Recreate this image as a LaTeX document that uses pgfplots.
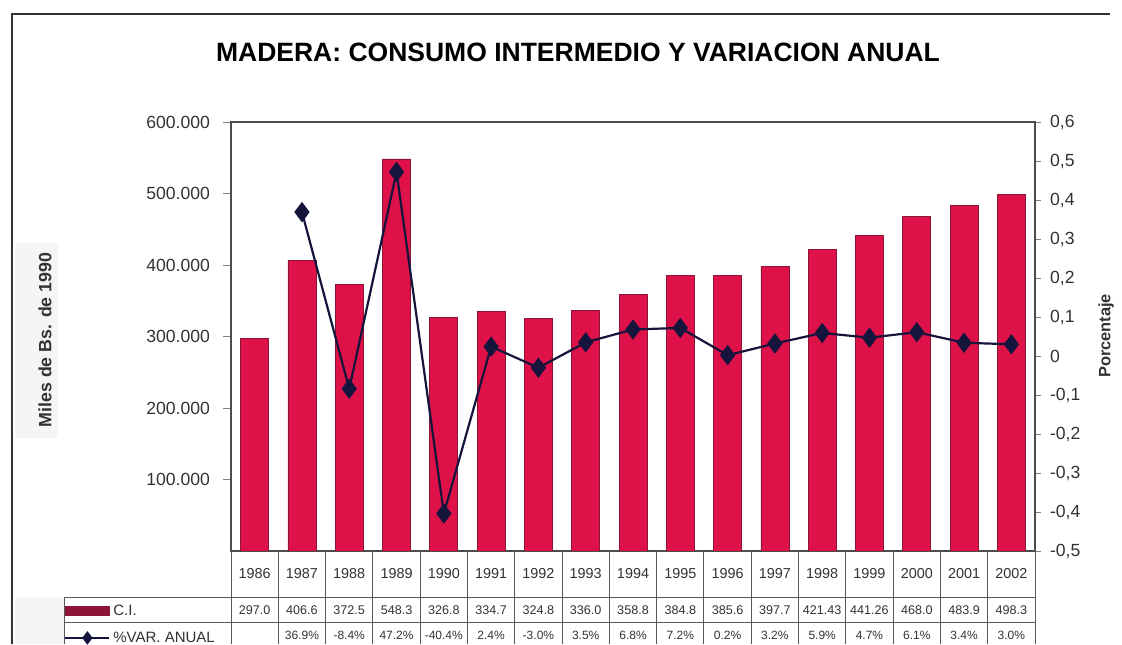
\documentclass[border=0pt]{standalone}
\usepackage{pgfplots}
\pgfplotsset{compat=1.18}
\usepackage{pgfplotstable}
\usepackage{fontspec}
\setmainfont{Liberation Sans}
\definecolor{barred}{RGB}{222,18,72}
\definecolor{bardark}{RGB}{140,20,55}
\definecolor{navy}{RGB}{20,20,60}
\definecolor{txt}{RGB}{50,50,50}

\pgfplotstableread{
idx year ci var
0 1986 297.0 nan
1 1987 406.6 0.369
2 1988 372.5 -0.084
3 1989 548.3 0.472
4 1990 326.8 -0.404
5 1991 334.7 0.024
6 1992 324.8 -0.030
7 1993 336.0 0.035
8 1994 358.8 0.068
9 1995 384.8 0.072
10 1996 385.6 0.002
11 1997 397.7 0.032
12 1998 421.43 0.059
13 1999 441.26 0.047
14 2000 468.0 0.061
15 2001 483.9 0.034
16 2002 498.3 0.030
}\datatab

\begin{document}
\begin{tikzpicture}[x=0.5bp,y=0.5bp]
\useasboundingbox (0,0) rectangle (1122,644);
% scan-like light panels
\fill[black!4] (15,206) rectangle (58,401);
\fill[black!4] (15,0) rectangle (64,47);
% outer frame
\draw[line width=1bp, black!80] (12,0) -- (12,630) -- (1110,630);
% title
\node[font=\bfseries\fontsize{13.25bp}{15bp}\selectfont] at (578,592) {MADERA: CONSUMO INTERMEDIO Y VARIACION ANUAL};
\node[rotate=90, font=\bfseries\fontsize{8.9bp}{10bp}\selectfont, text=txt] at (45,304) {Miles de Bs. de 1990};
\node[rotate=90, font=\bfseries\fontsize{8.2bp}{10bp}\selectfont, text=txt] at (1106,308) {Porcentaje};

\begin{axis}[
  at={(115.5bp,46.5bp)}, anchor=south west, scale only axis,
  width=402bp, height=214.5bp,
  xmin=-0.5, xmax=16.5, ymin=0, ymax=600000,
  xtick=\empty, ytick={100000,200000,300000,400000,500000,600000},
  ytick pos=left, tick align=outside, major tick length=4bp,
  scaled y ticks=false,
  /pgf/number format/assume math mode=true,
  yticklabel style={xshift=-3bp, /pgf/number format/.cd, fixed, precision=0, 1000 sep={.}},
  tick label style={font=\fontsize{8.8bp}{10bp}\selectfont, text=txt},
  axis line style={black!70, line width=0.6bp},
  ybar, bar width=14bp,
]
\addplot[fill=barred, draw=bardark, line width=0.4bp] table[x=idx, y expr=\thisrow{ci}*1000]{\datatab};
\end{axis}

\begin{axis}[
  at={(115.5bp,46.5bp)}, anchor=south west, scale only axis,
  width=402bp, height=214.5bp,
  xmin=-0.5, xmax=16.5, ymin=-0.5, ymax=0.6,
  axis y line*=right, axis x line=none,
  ytick={-0.5,-0.4,-0.3,-0.2,-0.1,0,0.1,0.2,0.3,0.4,0.5,0.6},
  tick align=outside, major tick length=3bp,
  /pgf/number format/assume math mode=true,
  yticklabel style={xshift=1bp, /pgf/number format/.cd, fixed, precision=1, use comma},
  tick label style={font=\fontsize{8.8bp}{10bp}\selectfont, text=txt},
  axis line style={black!70, line width=0.6bp},
  legend style={at={(-0.2077,-0.1072)}, anchor=north west, draw=none, fill=none,
    font=\fontsize{7.5bp}{8bp}\selectfont, inner sep=0pt, row sep=0pt,
    nodes={inner ysep=3bp, inner xsep=1.5bp, text height=6bp, text depth=1.5bp, text=txt}},
  legend cell align=left,
]
\addlegendimage{legend image code/.code={\fill[bardark] (0bp,-2.3bp) rectangle (22bp,2.3bp);}}
\addlegendentry{C.I.}
\addplot[navy, line width=1.1bp, mark=diamond*, mark size=4.2bp,
  legend image code/.code={\draw[navy, line width=1bp] (0bp,0bp) -- (22bp,0bp);
     \draw[navy, mark=diamond*, mark size=2.5bp] plot coordinates {(11bp,0bp)};}]
  table[x=idx, y=var]{\datatab};
\addlegendentry{\%VAR. ANUAL}
\end{axis}

% data table grid
\foreach \k in {0,...,17} \draw[black!65, line width=0.5bp] ({231+47.294*\k},93) -- ({231+47.294*\k},0);
\draw[black!65, line width=0.5bp] (64,47) -- (1035,47);
\draw[black!65, line width=0.5bp] (64,22) -- (1035,22);
\draw[black!65, line width=0.5bp] (64,47) -- (64,0);

\foreach \y [count=\i from 0] in {1986,1987,1988,1989,1990,1991,1992,1993,1994,1995,1996,1997,1998,1999,2000,2001,2002}
  \node[font=\fontsize{7.2bp}{8bp}\selectfont, text=txt] at ({231+47.294*(\i+0.5)},70) {\y};
\foreach \v [count=\i from 0] in {297.0,406.6,372.5,548.3,326.8,334.7,324.8,336.0,358.8,384.8,385.6,397.7,421.43,441.26,468.0,483.9,498.3}
  \node[font=\fontsize{6.3bp}{7bp}\selectfont, text=txt] at ({231+47.294*(\i+0.5)},34) {\v};
\foreach \p [count=\i from 1] in {36.9\%,-8.4\%,47.2\%,-40.4\%,2.4\%,-3.0\%,3.5\%,6.8\%,7.2\%,0.2\%,3.2\%,5.9\%,4.7\%,6.1\%,3.4\%,3.0\%}
  \node[font=\fontsize{6.0bp}{7bp}\selectfont, text=txt] at ({231+47.294*(\i+0.5)},9) {\p};
\end{tikzpicture}
\end{document}
